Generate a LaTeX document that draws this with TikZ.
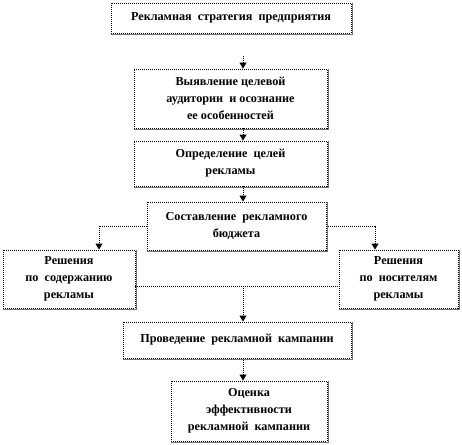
\documentclass[tikz,border=0pt]{standalone}
\usepackage{fontspec}
\setmainfont{Liberation Serif}
\usetikzlibrary{arrows.meta}

\begin{document}
\begin{tikzpicture}[x=1pt, y=-1pt,
    % Estilos dos blocos e das setas
    blok/.style={rectangle, draw=black, line width=0.9pt, dash pattern=on 1pt off 1pt, fill=white, inner sep=0pt, align=center, font=\bfseries\fontsize{12.2}{17}\selectfont},
    ten/.style={draw=black!55, line width=1.3pt},
    strelka/.style={draw, line width=0.9pt, dash pattern=on 1pt off 1pt, -{Triangle[width=7pt,length=6pt]}},
    linha/.style={draw, line width=0.9pt, dash pattern=on 1pt off 1pt}
]
\useasboundingbox (0,0) rectangle (462,444);

% ==========================
% COORDENADAS DAS SETAS
% ==========================
\coordinate (ax) at (243,0);   % eixo das setas centrais
\coordinate (lx) at (99,0);    % ramo esquerdo
\coordinate (rx) at (375,0);   % ramo direito
\coordinate (hl) at (0,286);   % linha horizontal inferior
\coordinate (a0) at (243,56);  % inicio da primeira seta

% ==========================
% BLOCOS
% ==========================
\node[blok, minimum width=240, minimum height=30] (strat) at (231,18) {Рекламная\ \ стратегия\ \ предприятия};
\node[blok, minimum width=193, minimum height=59] (audit) at (230.5,98.5) {Выявление целевой\\аудитории\ \ и осознание\\ее особенностей};
\node[blok, minimum width=193, minimum height=45] (celi) at (230.5,163.5) {Определение\ \ целей\\рекламы};
\node[blok, minimum width=179, minimum height=48] (budget) at (236.5,226) {Составление\ \ рекламного\\бюджета};
\node[blok, minimum width=132, minimum height=58] (soderzh) at (69,279) {Решения\\по\ \ содержанию\\рекламы};
\node[blok, minimum width=119, minimum height=58] (nositel) at (398.5,279) {Решения\\по\ \ носителям\\рекламы};
\node[blok, minimum width=228, minimum height=36] (proved) at (237,340) {Проведение\ \ рекламной\ \ кампании};
\node[blok, minimum width=156, minimum height=60] (ocenka) at (249,411) {Оценка\\эффективности\\рекламной\ \ кампании};

% sombras (direita e baixo)
\foreach \n in {strat,audit,celi,budget,soderzh,nositel,proved,ocenka} {
    \draw[ten] ([shift={(0,1)}]\n.south west) -- ([shift={(1,1)}]\n.south east) -- ([shift={(1,0)}]\n.north east);
}

% ==========================
% SETAS
% ==========================
\draw[strelka] (a0) -- (audit.north -| ax);
\draw[strelka] (audit.south -| ax) -- (celi.north -| ax);
\draw[strelka] (celi.south -| ax) -- (budget.north -| ax);
\draw[strelka] (budget.west) -| (soderzh.north -| lx);
\draw[strelka] (budget.east) -| (nositel.north -| rx);
\draw[linha] (soderzh.east |- hl) -- (nositel.west |- hl);
\draw[strelka] (ax |- hl) -- (proved.north -| ax);
\draw[strelka] (proved.south -| ax) -- (ocenka.north -| ax);

\end{tikzpicture}
\end{document}
